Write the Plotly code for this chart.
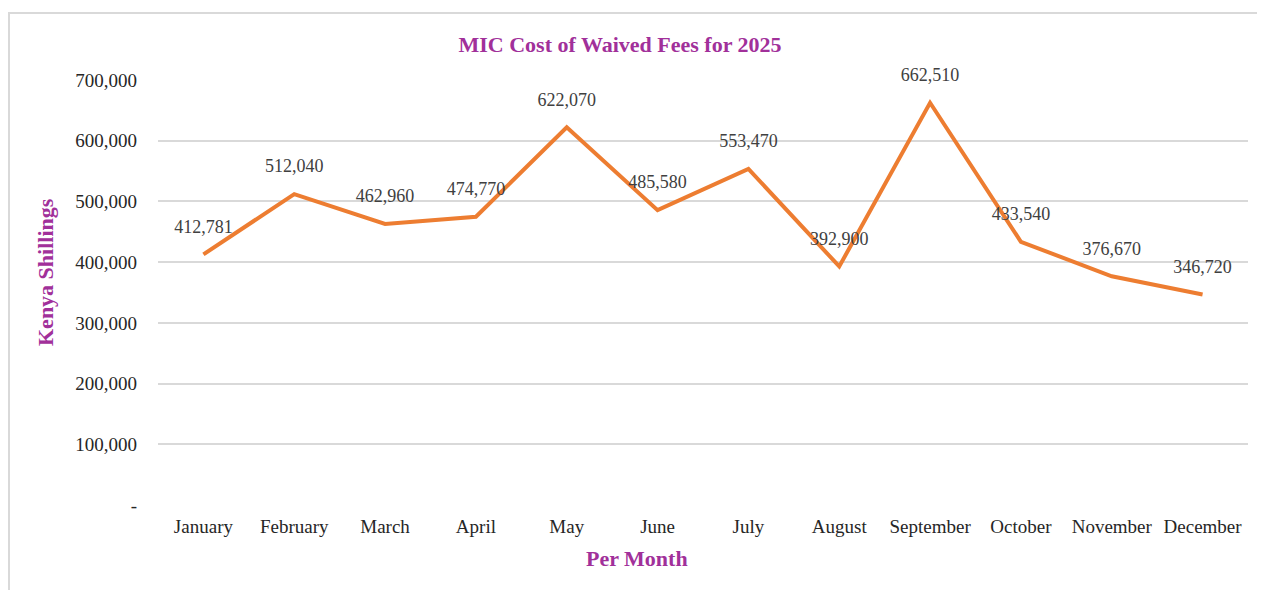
import plotly.graph_objects as go

months = ["January", "February", "March", "April", "May", "June", "July",
          "August", "September", "October", "November", "December"]
costs = [412781, 512040, 462960, 474770, 622070, 485580, 553470,
         392900, 662510, 433540, 376670, 346720]
ytick_vals = [0, 100000, 200000, 300000, 400000, 500000, 600000, 700000]
ytick_text = ["-", "100,000", "200,000", "300,000", "400,000", "500,000", "600,000", "700,000"]

# page body has an 8px margin; figure coords = screen coords - 8
W, H = 1257, 582
L, R, T, B = 150, 17, 72, 85
pw, ph = W - L - R, H - T - B

serif = "Liberation Serif, Times New Roman, serif"
purple = "#A1309A"


def px(xs):
    return (xs - 8 - L) / pw


def py(ys):
    return (H - B - (ys - 8)) / ph


fig = go.Figure()
fig.add_trace(go.Scatter(
    x=months, y=costs, mode="lines+markers+text",
    line=dict(color="#ED7D31", width=4),
    marker=dict(size=26, color="rgba(0,0,0,0)"),
    text=[f"{v:,}" for v in costs],
    textposition="top center",
    textfont=dict(family=serif, size=18, color="#404040"),
    cliponaxis=False,
    hoverinfo="x+y",
))

fig.update_layout(
    width=W, height=H,
    margin=dict(l=L, r=R, t=T, b=B),
    paper_bgcolor="white", plot_bgcolor="white",
    showlegend=False,
    title=dict(text="<b>MIC Cost of Waived Fees for 2025</b>",
               x=px(620), xanchor="center", xref="paper",
               y=1 - 36 / H, yanchor="middle", yref="container",
               font=dict(family=serif, size=22, color=purple)),
    xaxis=dict(showgrid=False, zeroline=False, showline=False,
               range=[-0.5, len(months) - 0.5],
               tickfont=dict(family=serif, size=19, color="#262626"),
               ticklabelstandoff=8),
    yaxis=dict(range=[0, 700000], tickvals=ytick_vals, ticktext=ytick_text,
               showgrid=True, gridcolor="#D9D9D9", gridwidth=1.5,
               zeroline=False, showline=False,
               tickfont=dict(family=serif, size=19, color="#262626"),
               ticklabelstandoff=20),
    shapes=[dict(type="rect", xref="paper", yref="paper",
                 x0=px(9), x1=px(1262),
                 y0=py(620), y1=py(13),
                 line=dict(color="#D9D9D9", width=2), fillcolor="rgba(0,0,0,0)",
                 layer="below")],
    annotations=[
        dict(text="<b>Kenya Shillings</b>", xref="paper", yref="paper",
             x=px(45), y=py(272), textangle=-90,
             showarrow=False, xanchor="center", yanchor="middle",
             font=dict(family=serif, size=22, color=purple)),
        dict(text="<b>Per Month</b>", xref="paper", yref="paper",
             x=px(637), y=py(558),
             showarrow=False, xanchor="center", yanchor="middle",
             font=dict(family=serif, size=22, color=purple)),
    ],
)

fig.write_html("out.html")
